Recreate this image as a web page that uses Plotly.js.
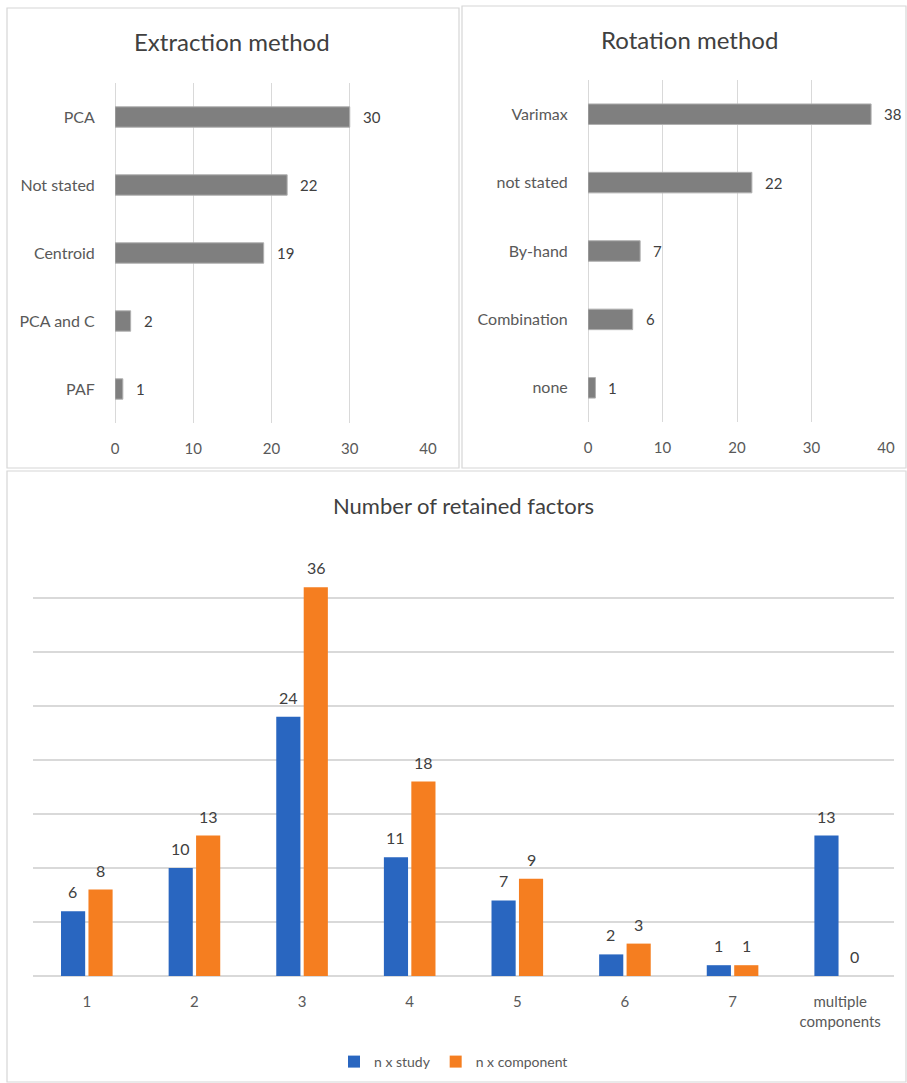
<!DOCTYPE html>
<html>
<head>
<meta charset="utf-8">
<script src="https://cdn.plot.ly/plotly-3.0.1.min.js"></script>
<style>html,body{margin:0;padding:0;background:#fff;}#chart{width:907px;height:1083px;}</style>
</head>
<body>
<div id="chart"></div>
<script>
// ---- data ----
const extractionCategories = ['PCA', 'Not stated', 'Centroid', 'PCA and C', 'PAF'];
const extractionValues = [30, 22, 19, 2, 1];

const rotationCategories = ['Varimax', 'not stated', 'By-hand', 'Combination', 'none'];
const rotationValues = [38, 22, 7, 6, 1];

const factorCategories = ['1', '2', '3', '4', '5', '6', '7', 'multiple<br>components'];
const studyValues = [6, 10, 24, 11, 7, 2, 1, 13];
const componentValues = [8, 13, 36, 18, 9, 3, 1, 0];
const seriesNames = ['n x study', 'n x component'];

// ---- styling ----
const FONT = 'Lato, "Open Sans", sans-serif';
const TICK = '#595959';
const LABEL = '#404040';
const GRID = '#d9d9d9';
const GRAYBAR = '#7f7f7f';
const BLUE = '#2966c0';
const ORANGE = '#f57e20';

const W = 907, H = 1083;
const px = v => v / W;
const py = v => 1 - v / H;

const traces = [
  {
    type: 'bar', orientation: 'h', x: extractionValues, y: extractionCategories,
    xaxis: 'x', yaxis: 'y', width: 0.3, showlegend: false,
    marker: {color: GRAYBAR, line: {color: '#b0b0b0', width: 1}}, hoverinfo: 'x+y'
  },
  {
    type: 'bar', orientation: 'h', x: rotationValues, y: rotationCategories,
    xaxis: 'x2', yaxis: 'y2', width: 0.3, showlegend: false,
    marker: {color: GRAYBAR, line: {color: '#b0b0b0', width: 1}}, hoverinfo: 'x+y'
  },
  {
    type: 'bar', name: seriesNames[0], x: factorCategories, y: studyValues,
    xaxis: 'x3', yaxis: 'y3', marker: {color: BLUE}
  },
  {
    type: 'bar', name: seriesNames[1], x: factorCategories, y: componentValues,
    xaxis: 'x3', yaxis: 'y3', marker: {color: ORANGE}
  }
];

const annotations = [];
function title(text, x, y, size) {
  annotations.push({text: text, xref: 'paper', yref: 'paper', x: x, y: y,
    xanchor: 'center', yanchor: 'middle', showarrow: false,
    font: {family: FONT, size: size, color: LABEL}});
}
title('Extraction method', px(232), py(42), 24);
title('Rotation method', px(689), py(40), 24);
title('Number of retained factors', px(463), py(505), 22);

extractionCategories.forEach((c, i) => annotations.push({
  text: String(extractionValues[i]), x: extractionValues[i], y: i, xref: 'x', yref: 'y',
  xanchor: 'left', yanchor: 'middle', xshift: 11, showarrow: false,
  font: {family: FONT, size: 15, color: LABEL}}));
rotationCategories.forEach((c, i) => annotations.push({
  text: String(rotationValues[i]), x: rotationValues[i], y: i, xref: 'x2', yref: 'y2',
  xanchor: 'left', yanchor: 'middle', xshift: 11, showarrow: false,
  font: {family: FONT, size: 15, color: LABEL}}));
// category axes place category i at position i
factorCategories.forEach((c, i) => {
  annotations.push({text: String(studyValues[i]), x: i, y: studyValues[i], xref: 'x3', yref: 'y3',
    xanchor: 'center', yanchor: 'bottom', xshift: -14, yshift: 8, showarrow: false,
    font: {family: FONT, size: 16, color: LABEL}});
  annotations.push({text: String(componentValues[i]), x: i, y: componentValues[i], xref: 'x3', yref: 'y3',
    xanchor: 'center', yanchor: 'bottom', xshift: 14, yshift: 8, showarrow: false,
    font: {family: FONT, size: 16, color: LABEL}});
});

const panelLine = {color: '#d6d6d6', width: 1.2};
const shapes = [
  {type: 'rect', xref: 'paper', yref: 'paper', x0: px(7), x1: px(459), y0: py(468), y1: py(8), line: panelLine},
  {type: 'rect', xref: 'paper', yref: 'paper', x0: px(462), x1: px(906), y0: py(468), y1: py(6), line: panelLine},
  {type: 'rect', xref: 'paper', yref: 'paper', x0: px(7), x1: px(906), y0: py(1082), y1: py(471), line: panelLine}
];

const tickfont = {family: FONT, size: 15, color: TICK};
const catfont = {family: FONT, size: 16, color: TICK};
const hx = {
  range: [0, 40], dtick: 10, showgrid: true, gridcolor: GRID, gridwidth: 1,
  zeroline: true, zerolinecolor: GRID, zerolinewidth: 1, showline: false,
  ticks: 'outside', ticklen: 12, tickcolor: 'rgba(0,0,0,0)', tickfont: tickfont, fixedrange: true
};
const hy = {
  type: 'category', autorange: 'reversed', showgrid: false, zeroline: false, showline: false,
  ticks: 'outside', ticklen: 16, tickcolor: 'rgba(0,0,0,0)', tickfont: catfont, fixedrange: true
};

const layout = {
  width: W, height: H, margin: {l: 0, r: 0, t: 0, b: 0},
  paper_bgcolor: '#ffffff', plot_bgcolor: 'rgba(0,0,0,0)',
  font: {family: FONT, color: TICK},
  barmode: 'group', bargap: 0.49, bargroupgap: 0.12,
  xaxis: Object.assign({}, hx, {domain: [px(115), px(428)], anchor: 'y'}),
  yaxis: Object.assign({}, hy, {domain: [py(423), py(83)], anchor: 'x'}),
  xaxis2: Object.assign({}, hx, {domain: [px(588), px(886)], anchor: 'y2'}),
  yaxis2: Object.assign({}, hy, {domain: [py(422), py(80)], anchor: 'x2'}),
  xaxis3: {
    type: 'category', domain: [px(33), px(894)], anchor: 'y3', showgrid: false, zeroline: false,
    showline: false, ticks: 'outside', ticklen: 12, tickcolor: 'rgba(0,0,0,0)',
    tickfont: {family: FONT, size: 15, color: TICK}, fixedrange: true
  },
  yaxis3: {
    domain: [py(976), py(544)], anchor: 'x3', range: [0, 40], dtick: 5, showticklabels: false,
    showgrid: true, gridcolor: GRID, gridwidth: 1.2, zeroline: true, zerolinecolor: GRID, zerolinewidth: 1.2,
    ticks: '', fixedrange: true
  },
  showlegend: true,
  legend: {orientation: 'h', x: 0.5, xanchor: 'center', y: py(1062), yanchor: 'middle',
    font: {family: FONT, size: 14, color: TICK}, itemwidth: 30, tracegroupgap: 0, bgcolor: 'rgba(0,0,0,0)'},
  annotations: annotations,
  shapes: shapes
};

Plotly.newPlot('chart', traces, layout, {displayModeBar: false, staticPlot: true});
</script>
</body>
</html>
